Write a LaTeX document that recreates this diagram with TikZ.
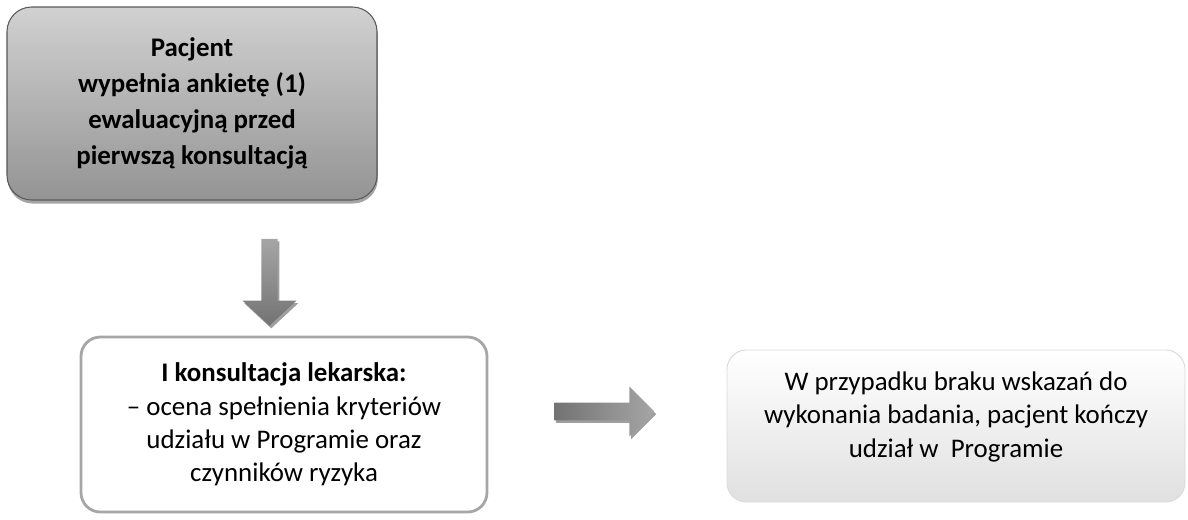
\documentclass[tikz,border=0pt]{standalone}
\usepackage{fontspec}
\setmainfont{Carlito}
\usetikzlibrary{positioning, shapes.arrows, shadows}

\tikzset{
  krok/.style={align=center, inner sep=0pt,
    font=\fontsize{15.3}{19}\selectfont},
  ankieta/.style={krok, rounded corners=14pt, draw=black!65, line width=0.6pt,
    top color=black!18, bottom color=black!42,
    drop shadow={shadow xshift=0.5pt, shadow yshift=-2pt, fill=black!70},
    font=\fontsize{15.3}{20.5}\selectfont\bfseries},
  konsultacja/.style={krok, rounded corners=11pt, draw=black!35, line width=1.6pt, fill=white},
  koniec/.style={krok, rounded corners=11pt, draw=black!15, line width=0.5pt,
    top color=white, bottom color=black!12},
  strzalka/.style={single arrow, draw=none, single arrow head indent=0pt,
    top color=black!35, bottom color=black!55,
    drop shadow={shadow xshift=1pt, shadow yshift=-1.5pt, fill=black!75}}
}

\begin{document}
\begin{tikzpicture}
  \useasboundingbox (0,0) rectangle (23.76,10.38); % 1px = 0.02cm
  % boxes
  \node[ankieta, minimum width=7.4cm, minimum height=3.86cm] (pacjent) at (3.84,8.31)
    {Pacjent\\ wypełnia ankietę (1)\\ ewaluacyjną przed\\ pierwszą konsultacją};
  \node[konsultacja, minimum width=8.12cm, minimum height=3.5cm] (lekarz) at (5.68,1.89)
    {\textbf{I konsultacja lekarska:}\\ – ocena spełnienia kryteriów\\ udziału w Programie oraz\\ czynników ryzyka};
  \node[koniec, minimum width=9.16cm, minimum height=3.04cm] (brak) at (19.12,1.86)
    {W przypadku braku wskazań do\\ wykonania badania, pacjent kończy\\ udział w\ \ Programie\\[-6pt]};
  % block arrows
  \node[strzalka, shape border rotate=270, minimum height=1.74cm, minimum width=1.08cm,
    single arrow head extend=0.29cm, single arrow tip angle=94] (wdol) at (5.39,4.81) {};
  \node[strzalka, minimum height=2cm, minimum width=1.0cm,
    single arrow head extend=0.23cm, single arrow tip angle=90,
    left color=black!55, right color=black!35] (wprawo) at (12.0,2.15) {};
\end{tikzpicture}
\end{document}
